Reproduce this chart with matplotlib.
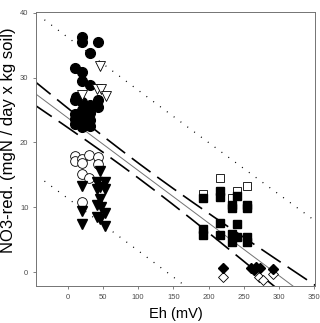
import numpy as np
import matplotlib
matplotlib.use('Agg')
import matplotlib.pyplot as plt

plt.rcParams['font.family'] = ['Liberation Sans', 'DejaVu Sans']

# (Eh in mV, NO3 reduction)
filled_circle_eh = [21, 21, 43, 31, 11, 21, 20, 31, 43, 43, 10, 21, 31, 21, 10, 10,
                    21, 31, 10, 21, 31, 12, 21, 31]
filled_circle_no3 = [36.2, 35.5, 35.4, 33.8, 31.5, 30.8, 29.4, 28.9, 26.6, 25.4, 26.6,
                     26.2, 25.7, 25.0, 24.4, 23.6, 23.3, 23.4, 22.9, 22.4, 22.6, 27.0,
                     24.2, 24.5]

open_tri_eh = [46, 41, 48, 54, 20]
open_tri_no3 = [31.7, 28.2, 28.3, 27.1, 27.3]

open_circle_eh = [10, 10, 21, 21, 30, 43, 43, 20, 30, 20]
open_circle_no3 = [17.9, 17.2, 17.4, 16.8, 18.0, 17.8, 16.7, 15.2, 14.6, 10.8]

filled_tri_eh = [46, 20, 42, 53, 46, 42, 53, 46, 42, 48, 20, 53, 42, 46, 20, 53]
filled_tri_no3 = [15.6, 13.3, 13.9, 13.9, 13.2, 12.9, 12.8, 11.3, 10.3, 10.1, 9.4,
                  9.2, 8.5, 8.2, 7.5, 7.1]

filled_sq_eh = [192, 216, 216, 240, 233, 233, 255, 255, 192, 192, 216, 216, 240,
                233, 240, 233, 255, 255]
filled_sq_no3 = [11.5, 12.6, 11.6, 11.7, 10.4, 9.9, 10.4, 9.9, 6.7, 5.7, 7.6, 5.8,
                 7.5, 5.9, 5.5, 4.6, 5.5, 4.6]

open_sq_eh = [216, 255, 240, 192, 233]
open_sq_no3 = [14.5, 13.3, 12.6, 12.1, 11.5]

filled_dia_eh = [221, 260, 267, 273, 265, 291]
filled_dia_no3 = [0.6, 0.7, 0.9, 0.7, 0.3, 0.5]

open_dia_eh = [221, 272, 277, 291]
open_dia_no3 = [-0.7, -0.7, -1.2, -0.2]

x_ticks = [0, 50, 100, 150, 200, 250, 300, 350]
y_ticks = [0, 10, 20, 30, 40]

# regression as printed in the figure (not all points are visible, so
# the line is read from the picture instead of refitted)
fit_intercept = 23.8
fit_slope = -0.081
fit_xmean = 100.0
conf_at_mean = 1.15
conf_width = 120.0
pred_resid = 12.3


def bands(x):
    y = fit_intercept + fit_slope * x
    conf = conf_at_mean * np.sqrt(1 + ((x - fit_xmean) / conf_width) ** 2)
    pred = np.sqrt(pred_resid ** 2 + conf ** 2)
    return y, conf, pred


xx = np.linspace(-50, 360, 200)
yy, conf, _ = bands(xx)
xp = np.linspace(-33, 360, 200)
yp, _, pred = bands(xp)

fig = plt.figure(figsize=(3.2, 3.23), dpi=100)
ax = fig.add_axes([0.1125, 0.1146, 0.8715, 0.8484])

ax.plot(xx, yy, color='0.45', lw=0.7, zorder=2)
for sign in (1, -1):
    ax.plot(xx, yy + sign * conf, color='k', lw=1.2, dashes=(14, 5), zorder=2)
    ax.plot(xp, yp + sign * pred, color='k', lw=0.9, linestyle=(0, (0.8, 6)), zorder=2)

ms = 7
ax.plot(filled_circle_eh, filled_circle_no3, 'o', ms=ms, mfc='k', mec='k', ls='none', zorder=3)
ax.plot(open_circle_eh, open_circle_no3, 'o', ms=ms, mfc='w', mec='k', mew=0.6, ls='none', zorder=3)
ax.plot(filled_tri_eh, filled_tri_no3, 'v', ms=ms, mfc='k', mec='k', ls='none', zorder=3)
ax.plot(open_tri_eh, open_tri_no3, 'v', ms=ms, mfc='w', mec='k', mew=0.6, ls='none', zorder=4)
ax.plot(open_sq_eh, open_sq_no3, 's', ms=5.5, mfc='w', mec='k', mew=0.6, ls='none', zorder=3)
ax.plot(filled_sq_eh, filled_sq_no3, 's', ms=5.5, mfc='k', mec='k', ls='none', zorder=4)
ax.plot(filled_dia_eh, filled_dia_no3, 'D', ms=5.5, mfc='k', mec='k', ls='none', zorder=4)
ax.plot(open_dia_eh, open_dia_no3, 'D', ms=5.5, mfc='w', mec='k', mew=0.6, ls='none', zorder=3)

ax.set_xlim(-45, 351)
ax.set_ylim(-2.1, 40.1)
ax.set_xticks(x_ticks)
ax.set_yticks(y_ticks)
ax.tick_params(labelsize=5.5, length=2.5, width=0.5, colors='0.3', pad=3)
for sp in ax.spines.values():
    sp.set_linewidth(0.7)
    sp.set_color('0.45')

ax.set_xlabel('Eh (mV)', fontsize=10.5)
ax.set_ylabel('NO3-red. (mgN / day x kg soil)', fontsize=12)
ax.xaxis.set_label_coords(0.5, -0.078)
ax.yaxis.set_label_coords(-0.07, 0.533)

fig.savefig('out.png', dpi=100)
